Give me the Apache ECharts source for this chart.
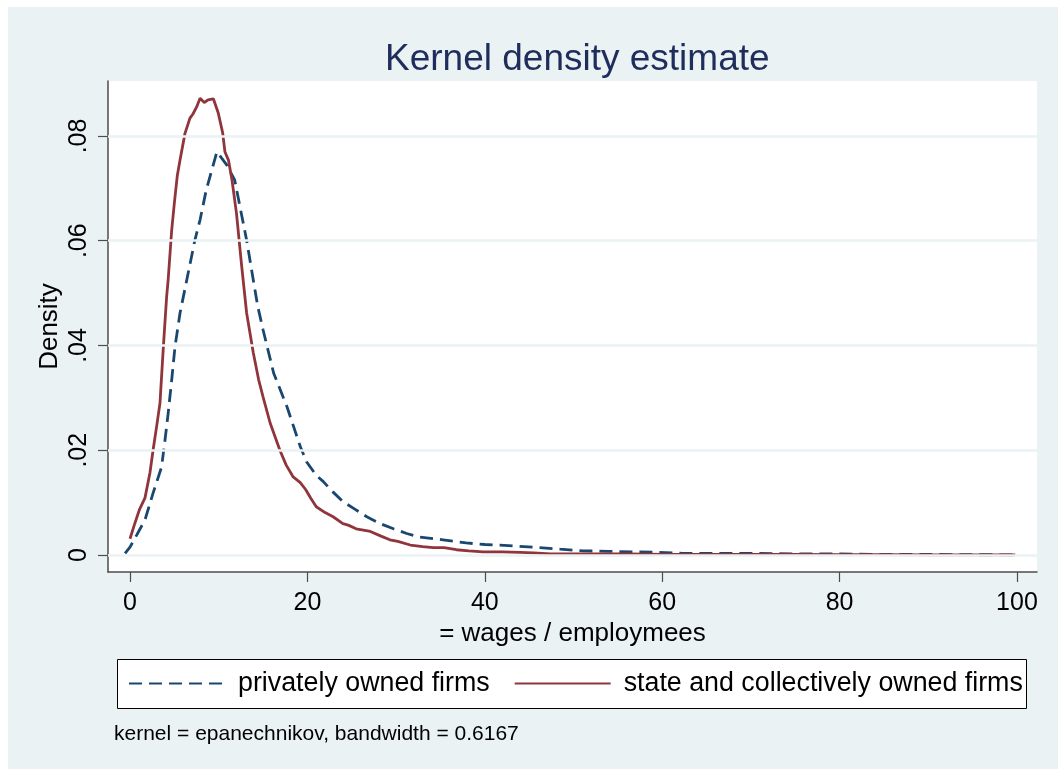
<!DOCTYPE html>
<html>
<head>
<meta charset="utf-8">
<script src="https://cdn.jsdelivr.net/npm/echarts@6/dist/echarts.min.js"></script>
<style>
html,body{margin:0;padding:0;background:#ffffff;}
#chart{position:absolute;left:8px;top:7px;width:1050px;height:762px;}
</style>
</head>
<body>
<div id="chart"></div>
<script>
// ---- Data ----
const privateX = [-0.56,0.0,0.75,1.69,2.6,3.56,3.95,4.3,4.7,5.07,5.64,6.4,7.3,7.9,8.6,9.8,10.9,11.8,12.4,13.15,13.9,14.4,15.0,16.2,17.7,19.2,19.9,21.0,21.8,22.9,24.0,25.3,26.7,28.2,29.7,31.2,32.7,35.3,37.9,40,41.7,43.5,45.4,48.5,51.1,54,56.7,59.5,62.3,66,70,75,80,85,90,95,100];
const privateY = [0.0003,0.0015,0.0038,0.0067,0.0118,0.0168,0.022,0.027,0.0334,0.0397,0.0462,0.0525,0.0600,0.0640,0.0697,0.0770,0.0745,0.0716,0.0665,0.0601,0.0525,0.0475,0.043,0.0347,0.0283,0.0207,0.0178,0.0152,0.0140,0.0120,0.0102,0.0088,0.0073,0.0060,0.0050,0.0041,0.0034,0.0029,0.0023,0.0020,0.0019,0.0017,0.0015,0.0011,0.0008,0.0007,0.0006,0.0005,0.0003,0.0003,0.0003,0.0002,0.0002,0.0001,0.0001,0.00005,0.00003];

const stateX = [0.0,0.5,1.05,1.69,2.25,2.6,3.0,3.38,3.76,4.13,4.3,4.7,5.0,5.33,5.64,6.2,6.76,7.1,7.5,7.9,8.37,8.8,9.4,9.95,10.45,10.7,11.1,11.5,12.0,12.6,13.15,13.9,14.5,15.0,15.8,16.9,17.6,18.4,19.2,19.8,20.4,21.0,22.0,22.9,24.0,24.6,25.5,27.1,28.3,29.3,30.2,31.6,33.0,34.2,35.4,36.8,38.2,39.8,42,44,45.5,47.4,50,53,56,60.5,65,70,75,80,85,90,95,99.8];
const stateY = [0.0031,0.0058,0.0086,0.0109,0.0157,0.020,0.0245,0.029,0.0397,0.0493,0.0525,0.062,0.0672,0.0724,0.0754,0.0805,0.0834,0.0842,0.0855,0.0872,0.0864,0.0869,0.0871,0.0844,0.0806,0.077,0.0754,0.0716,0.0653,0.055,0.0462,0.0386,0.0335,0.0302,0.0252,0.020,0.0172,0.0149,0.0138,0.0125,0.0108,0.0092,0.0081,0.0073,0.0060,0.0057,0.0050,0.0045,0.0036,0.0029,0.0026,0.0019,0.0016,0.0014,0.0014,0.0010,0.0008,0.0006,0.0006,0.0005,0.0004,0.0002,0.0002,0.0002,0.0002,0.0001,0.0001,0.0001,0.0001,0.00005,0.00005,0.00003,0.00003,0.00002];

const xTicks = [0,20,40,60,80,100];
const yTicks = [0,0.02,0.04,0.06,0.08];
const yTickLabels = ['0','.02','.04','.06','.08'];
const seriesNames = ['privately owned firms','state and collectively owned firms'];
const titleText = 'Kernel density estimate';
const xName = '= wages / employmees';
const yName = 'Density';
const noteText = 'kernel = epanechnikov, bandwidth = 0.6167';

// ---- Chart ----
const FONT = '"Liberation Sans", Arial, sans-serif';
const chart = echarts.init(document.getElementById('chart'), null, {renderer:'canvas'});
const zip = (xs, ys) => xs.map((x,i)=>[x, ys[i]]);

chart.setOption({
  backgroundColor:'#EAF2F3',
  animation:false,
  title:[
    {text:titleText, left:377, top:34, padding:0,
     textStyle:{fontFamily:FONT, fontSize:37, fontWeight:'normal', color:'#1F2D5C'}},
    {text:noteText, left:106, top:717, padding:0,
     textStyle:{fontFamily:FONT, fontSize:21, fontWeight:'normal', color:'#000'}}
  ],
  graphic:[
    {type:'rect', z:0, shape:{x:109.5, y:652.5, width:909, height:49},
     style:{fill:'#ffffff', stroke:'#000000', lineWidth:1}}
  ],
  legend:{
    z:10,
    data:seriesNames,
    left:120, top:663, padding:0,
    itemWidth:96, itemHeight:14, itemGap:24,
    itemStyle:{color:'transparent', borderWidth:0, opacity:0},
    textStyle:{fontFamily:FONT, fontSize:26.8, color:'#000', padding:[0,0,0,8]}
  },
  grid:{left:100, top:74, right:21, bottom:197, show:true, backgroundColor:'#ffffff', borderWidth:0},
  xAxis:{
    type:'value', min:-2.48, max:102.26,
    name:xName, nameLocation:'middle', nameGap:45,
    nameTextStyle:{fontFamily:FONT, fontSize:26, color:'#000'},
    axisLine:{show:true, onZero:false, lineStyle:{color:'#4d4d4d', width:1.5}},
    axisTick:{show:true, customValues:xTicks, length:10, lineStyle:{color:'#4d4d4d', width:1.2}},
    axisLabel:{customValues:xTicks, margin:19, fontFamily:FONT, fontSize:25, color:'#000'},
    splitLine:{show:false}
  },
  yAxis:{
    type:'value', min:-0.00325, max:0.0905,
    name:yName, nameLocation:'middle', nameGap:45, nameMoveOverlap:false,
    nameTextStyle:{fontFamily:FONT, fontSize:26, color:'#000'},
    axisLine:{show:true, onZero:false, lineStyle:{color:'#4d4d4d', width:1.5}},
    axisTick:{show:true, customValues:yTicks, length:10, lineStyle:{color:'#4d4d4d', width:1.2}},
    axisLabel:{customValues:yTicks, rotate:90, margin:16, fontFamily:FONT, fontSize:25, color:'#000',
      formatter:(v)=>{const i=yTicks.findIndex(t=>Math.abs(t-v)<1e-9); return i>=0?yTickLabels[i]:'';}},
    splitLine:{show:false}
  },
  series:[
    {name:'grid', type:'line', data:[], z:1, silent:true,
     markLine:{silent:true, symbol:'none', label:{show:false},
       lineStyle:{color:'#EAF2F3', width:2.5, type:'solid'},
       data:yTicks.map(v=>({yAxis:v}))}},
    {name:seriesNames[0], type:'line', z:2, data:zip(privateX, privateY),
     symbol:'none', showSymbol:false, smooth:false,
     lineStyle:{color:'#1A476F', width:2.8, type:[13,7]}, itemStyle:{color:'#1A476F'}},
    {name:seriesNames[1], type:'line', z:3, data:zip(stateX, stateY),
     symbol:'none', showSymbol:false, smooth:false,
     lineStyle:{color:'#90353B', width:2.8, type:'solid'}, itemStyle:{color:'#90353B'}}
  ]
});
</script>
</body>
</html>
